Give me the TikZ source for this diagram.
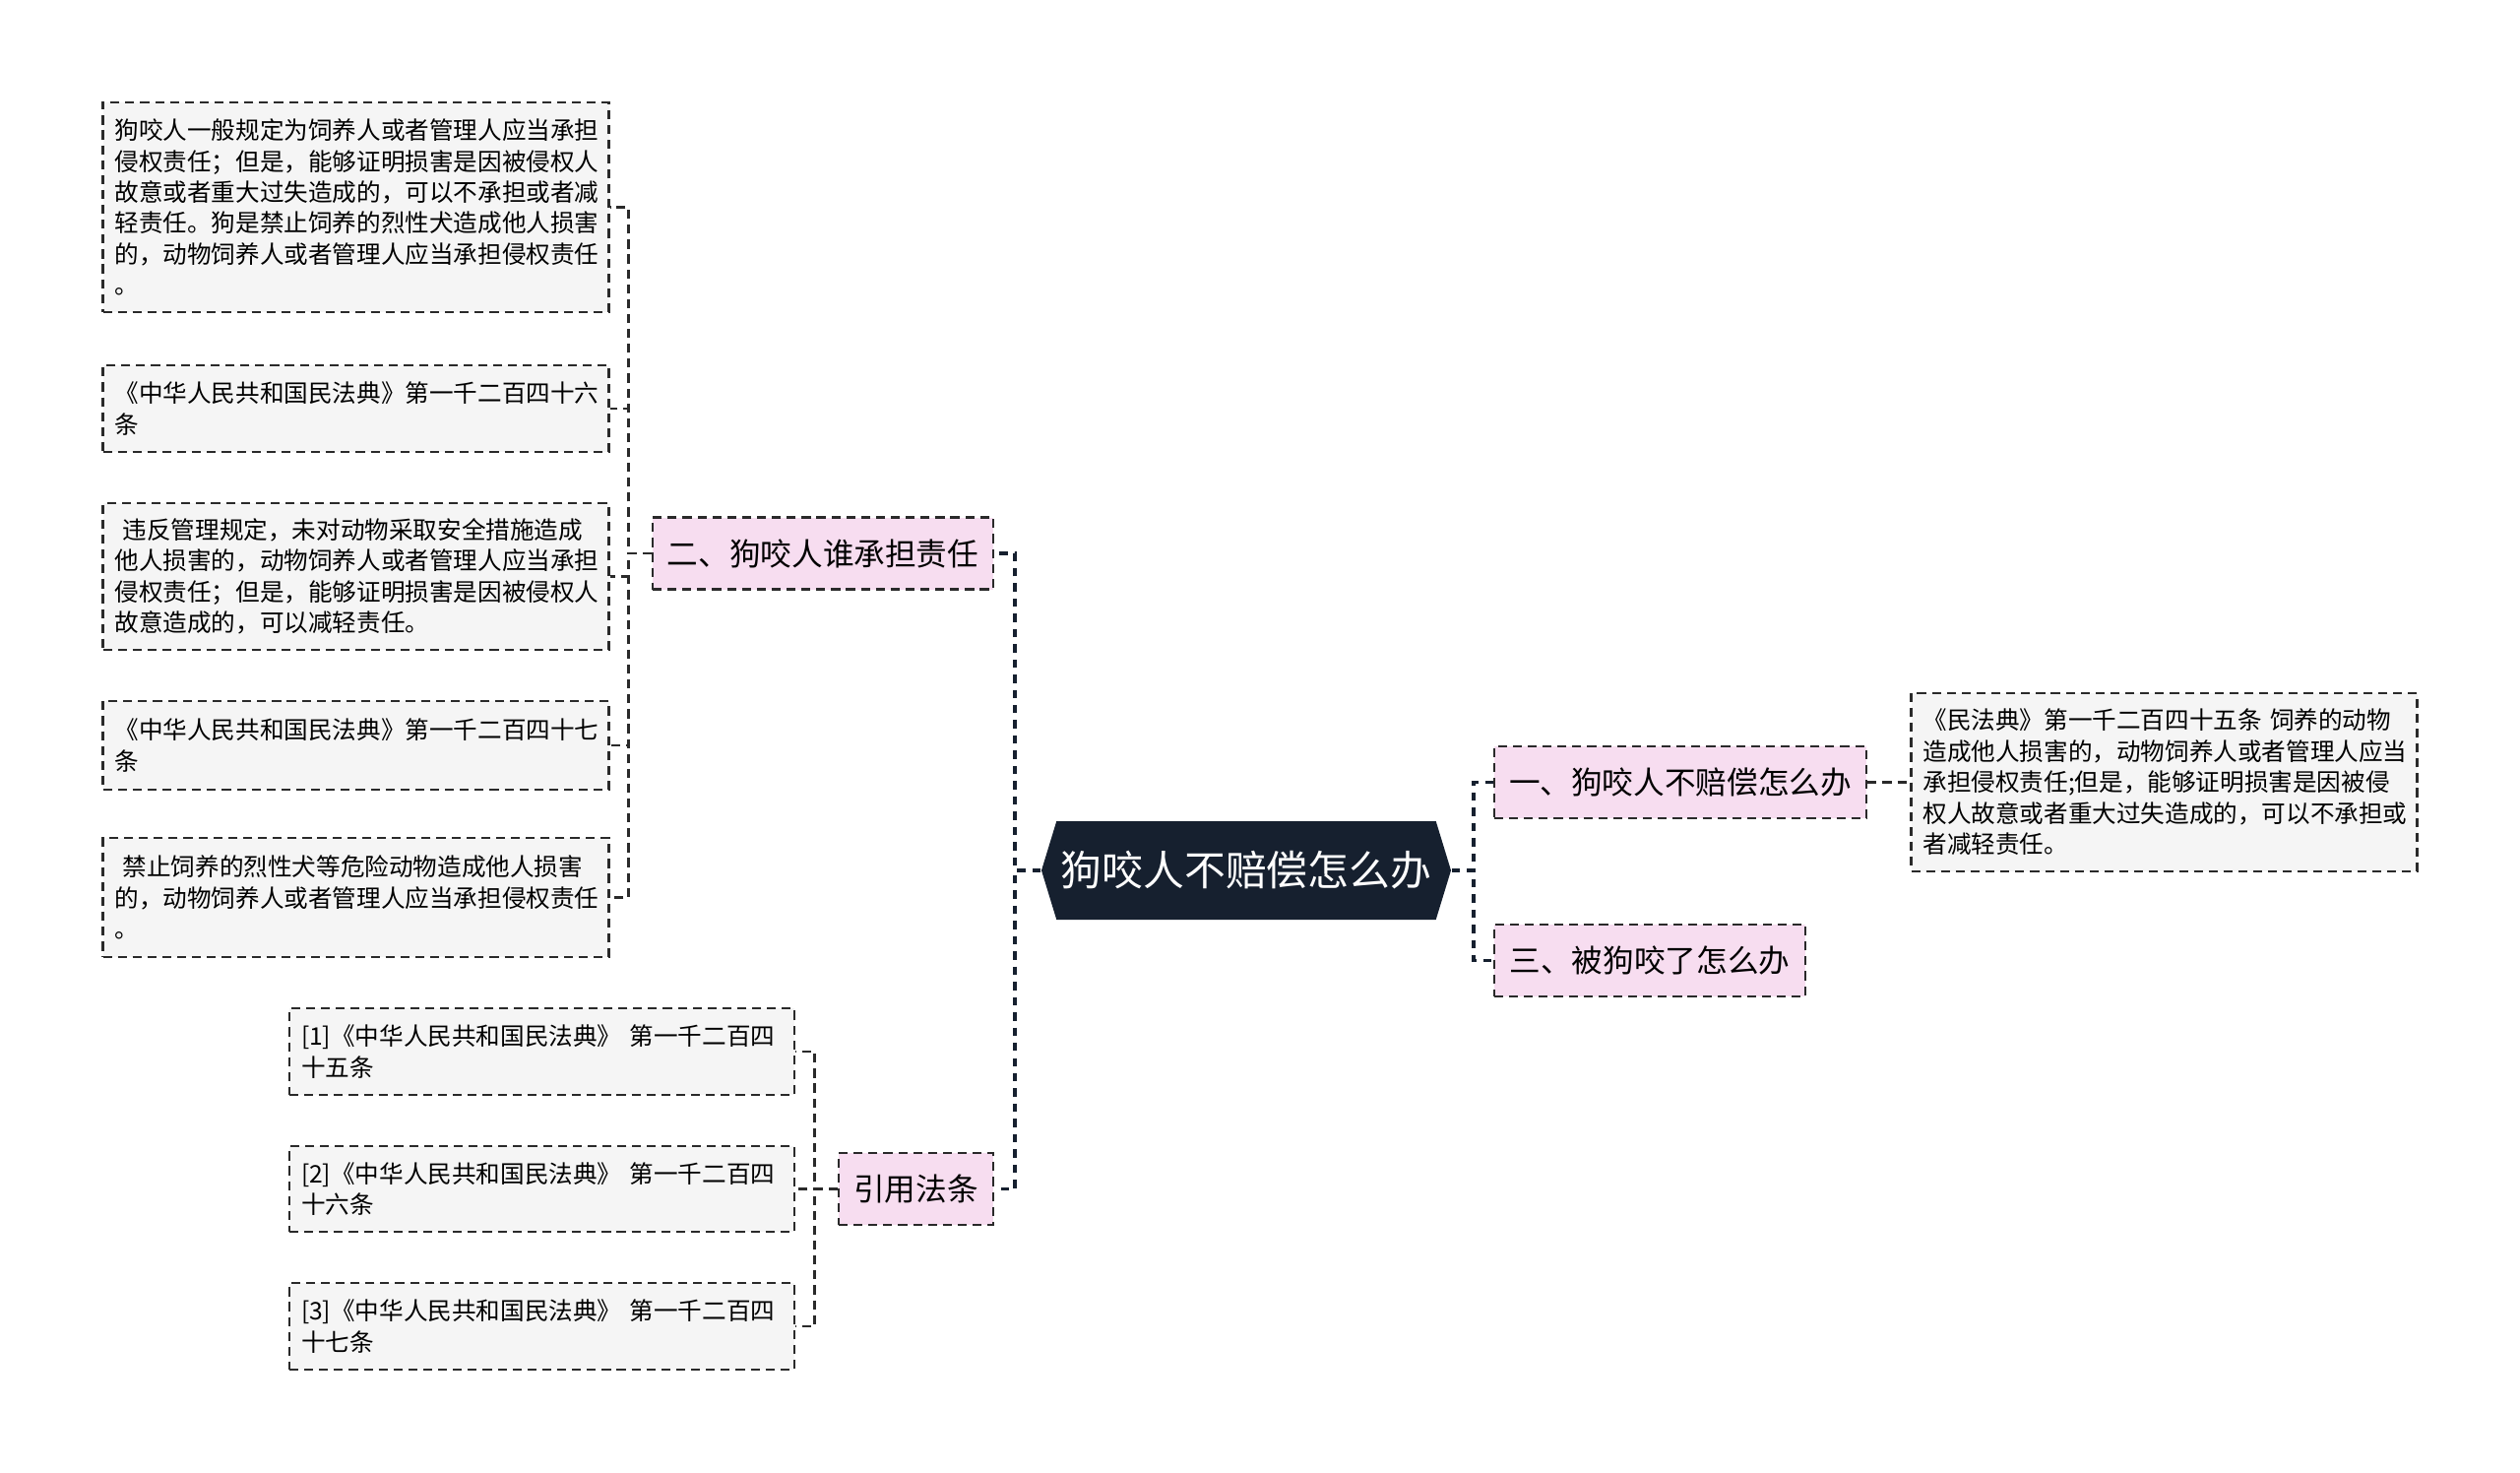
\documentclass[tikz,border=0pt]{standalone}
\usepackage{fontspec}
\setmainfont{Noto Sans CJK SC}
\usetikzlibrary{shapes.symbols}

\definecolor{rootblue}{HTML}{16202F}
\definecolor{branchpink}{HTML}{F7DDF0}
\definecolor{leafgray}{HTML}{F5F5F5}
\definecolor{linegray}{HTML}{2A2A2A}

\tikzset{
	root/.style={signal,signal to=west and east,signal pointer angle=146,fill=rootblue,
		text=white,font=\fontsize{11.9pt}{14pt}\selectfont,minimum width=4.16cm,minimum height=1cm,inner sep=0pt},
	branch/.style={draw=linegray,line width=0.75pt,dash pattern=on 2.6pt off 1.7pt,fill=branchpink,
		font=\fontsize{9pt}{11pt}\selectfont,minimum height=0.73cm,inner sep=0pt},
	leaf/.style={draw=linegray,line width=0.7pt,dash pattern=on 2.6pt off 1.7pt,fill=leafgray,
		font=\fontsize{7pt}{8.95pt}\selectfont,align=left,text width=4.9cm,inner xsep=0.12cm,inner ysep=0pt},
	trunk/.style={draw=rootblue,line width=1.1pt,dash pattern=on 2.4pt off 2pt},
	twig/.style={draw=linegray,line width=0.7pt,dash pattern=on 2.6pt off 1.7pt}
}

\begin{document}
\begin{tikzpicture}
	\useasboundingbox (0,0) rectangle (25.6,-14.95);
	
	% centre
	\node[root] (root) at (12.66,-8.84) {狗咬人不赔偿怎么办};
	
	% first level
	\node[branch,minimum width=3.46cm] (who) at (8.36,-5.62) {二、狗咬人谁承担责任};
	\node[branch,minimum width=1.57cm] (cite) at (9.305,-12.075) {引用法条};
	\node[branch,minimum width=3.78cm] (how) at (17.07,-7.945) {一、狗咬人不赔偿怎么办};
	\node[branch,minimum width=3.16cm] (bitten) at (16.76,-9.755) {三、被狗咬了怎么办};
	
	% leaves of who
	\node[leaf,minimum height=2.13cm] (w1) at (3.615,-2.105) {狗咬人一般规定为饲养人或者管理人应当承担\\侵权责任；但是，能够证明损害是因被侵权人\\故意或者重大过失造成的，可以不承担或者减\\轻责任。狗是禁止饲养的烈性犬造成他人损害\\的，动物饲养人或者管理人应当承担侵权责任\\。};
	\node[leaf,minimum height=0.88cm] (w2) at (3.615,-4.15) {《中华人民共和国民法典》第一千二百四十六\\条};
	\node[leaf,minimum height=1.49cm] (w3) at (3.615,-5.855) {\ 违反管理规定，未对动物采取安全措施造成\\他人损害的，动物饲养人或者管理人应当承担\\侵权责任；但是，能够证明损害是因被侵权人\\故意造成的，可以减轻责任。};
	\node[leaf,minimum height=0.9cm] (w4) at (3.615,-7.57) {《中华人民共和国民法典》第一千二百四十七\\条};
	\node[leaf,minimum height=1.21cm] (w5) at (3.615,-9.115) {\ 禁止饲养的烈性犬等危险动物造成他人损害\\的，动物饲养人或者管理人应当承担侵权责任\\。};
	
	% leaves of cite
	\node[leaf,text width=4.89cm,minimum height=0.88cm] (c1) at (5.505,-10.68) {[1]《中华人民共和国民法典》 第一千二百四\\十五条};
	\node[leaf,text width=4.89cm,minimum height=0.87cm] (c2) at (5.505,-12.075) {[2]《中华人民共和国民法典》 第一千二百四\\十六条};
	\node[leaf,text width=4.89cm,minimum height=0.88cm] (c3) at (5.505,-13.47) {[3]《中华人民共和国民法典》 第一千二百四\\十七条};
	
	% leaf of how
	\node[leaf,minimum height=1.81cm] (h1) at (21.985,-7.945) {《民法典》第一千二百四十五条 饲养的动物\\造成他人损害的，动物饲养人或者管理人应当\\承担侵权责任;但是，能够证明损害是因被侵\\权人故意或者重大过失造成的，可以不承担或\\者减轻责任。};
	
	% connectors
	\foreach \b in {who,cite}
		\draw[trunk] (root.west) -- ++(-0.26,0) |- (\b.east);
	\foreach \b in {how,bitten}
		\draw[trunk] (root.east) -- ++(0.22,0) |- (\b.west);
	
	\foreach \l in {w1,w2,w3,w4,w5}
		\draw[twig] (who.west) -- ++(-0.23,0) |- (\l.east);
	\foreach \l in {c1,c2,c3}
		\draw[twig] (cite.west) -- ++(-0.23,0) |- (\l.east);
	\draw[twig] (how.east) -- (h1.west);
	
\end{tikzpicture}
\end{document}
